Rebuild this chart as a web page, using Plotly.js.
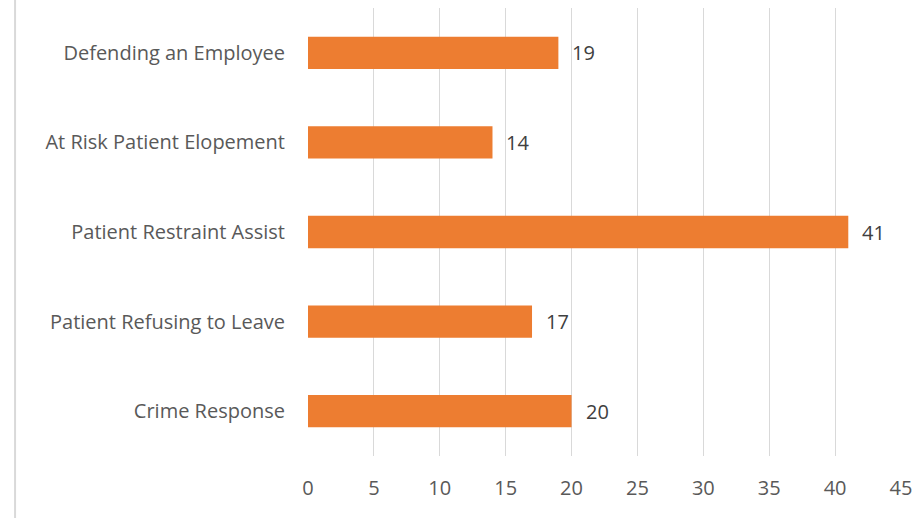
<!DOCTYPE html>
<html><head><meta charset="utf-8">
<script src="https://cdn.plot.ly/plotly-3.0.1.min.js"></script>
<style>html,body{margin:0;padding:0;background:#fff}#chart{width:924px;height:518px}</style>
</head><body><div id="chart"></div>
<script>
const categories = ["Defending an Employee","At Risk Patient Elopement","Patient Restraint Assist","Patient Refusing to Leave","Crime Response"];
const values = [19, 14, 41, 17, 20];
const xTicks = [0,5,10,15,20,25,30,35,40,45];

const trace = {
  type: 'bar', orientation: 'h',
  y: categories, x: values,
  marker: {color: '#ED7D31'},
  hoverinfo: 'none'
};
const labelAnnotations = categories.map((c, i) => ({
  x: values[i], y: c, xref: 'x', yref: 'y',
  text: String(values[i]), showarrow: false,
  xanchor: 'left', yanchor: 'middle', xshift: 12,
  font: {family: 'Open Sans, sans-serif', size: 20, color: '#404040'}
}));
const layout = {
  width: 924, height: 518,
  margin: {l: 308, r: 23, t: 8, b: 62},
  paper_bgcolor: '#fff', plot_bgcolor: '#fff',
  bargap: 0.64,
  showlegend: false,
  font: {family: 'Open Sans, sans-serif', color: '#595959'},
  xaxis: {range: [0, 45], tickvals: xTicks, ticktext: xTicks.map(String),
          showgrid: true, gridcolor: '#d9d9d9', gridwidth: 1, zeroline: false,
          showline: false, ticks: '', tickfont: {size: 20, color: '#595959'}, ticklabelstandoff: 18},
  yaxis: {categoryorder: 'array', categoryarray: categories, autorange: 'reversed',
          showgrid: false, zeroline: false, showline: false, ticks: '',
          tickfont: {size: 20, color: '#595959'}, ticklabelstandoff: 22},
  annotations: labelAnnotations,
  shapes: [{type: 'line', xref: 'paper', yref: 'paper', x0: -0.494, x1: -0.494, y0: -0.14, y1: 1.02,
            line: {color: '#d9d9d9', width: 2}}]
};
Plotly.newPlot('chart', [trace], layout, {staticPlot: true});
</script></body></html>
